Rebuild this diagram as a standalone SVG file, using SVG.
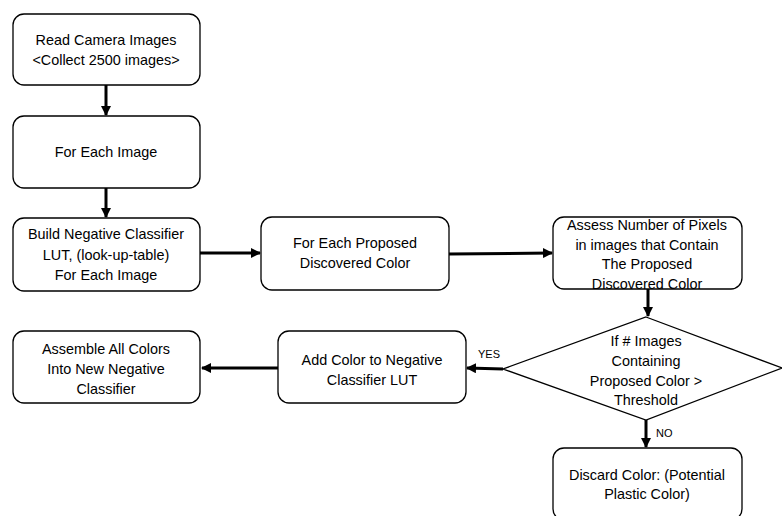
<svg xmlns="http://www.w3.org/2000/svg" width="782" height="516" viewBox="0 0 782 516">
<style>
.box{fill:#fff;stroke:#000;stroke-width:1.3}
.t{font-family:"Liberation Sans",Arial,sans-serif;font-size:14.4px;fill:#000;text-anchor:middle}
.lbl{font-family:"Liberation Sans",Arial,sans-serif;font-size:11px;fill:#000}
.c{stroke:#000;stroke-width:3;fill:none;marker-end:url(#ah)}
</style>
<defs>
<marker id="ah" markerWidth="10" markerHeight="10" viewBox="0 0 10 10" refX="9" refY="5" orient="auto" markerUnits="userSpaceOnUse">
<path d="M0,0 L10,5 L0,10 z" fill="#000"/>
</marker>
</defs>
<rect width="782" height="516" fill="#fff"/>
<g id="connectors">
<line class="c" x1="106" y1="85" x2="106" y2="115"/>
<line class="c" x1="106" y1="188" x2="106" y2="217"/>
<line class="c" x1="200" y1="253" x2="260" y2="253"/>
<line class="c" x1="449" y1="254" x2="552" y2="253"/>
<line class="c" x1="648" y1="289" x2="648" y2="316"/>
<line class="c" x1="503" y1="369" x2="467" y2="368"/>
<line class="c" x1="278" y1="368" x2="202" y2="368"/>
<line class="c" x1="646" y1="420" x2="646" y2="447"/>
<text class="lbl" x="489" y="358" text-anchor="middle">YES</text>
<text class="lbl" x="656" y="437">NO</text>
</g>
<g id="n1">
<rect class="box" x="13" y="14" width="187" height="71" rx="11"/>
<text class="t" x="106" y="45">Read Camera Images</text>
<text class="t" x="106" y="65">&lt;Collect 2500 images&gt;</text>
</g>
<g id="n2">
<rect class="box" x="13" y="116" width="187" height="72" rx="11"/>
<text class="t" x="106" y="157">For Each Image</text>
</g>
<g id="n3">
<rect class="box" x="13" y="218" width="187" height="73" rx="11"/>
<text class="t" x="106" y="239">Build Negative Classifier</text>
<text class="t" x="106" y="260">LUT, (look-up-table)</text>
<text class="t" x="106" y="280">For Each Image</text>
</g>
<g id="n4">
<rect class="box" x="261" y="217" width="188" height="73" rx="11"/>
<text class="t" x="355" y="248">For Each Proposed</text>
<text class="t" x="355" y="268">Discovered Color</text>
</g>
<g id="n5">
<rect class="box" x="553" y="217" width="189" height="72" rx="11"/>
<text class="t" x="647" y="230">Assess Number of Pixels</text>
<text class="t" x="647" y="250">in images that Contain</text>
<text class="t" x="647" y="269">The Proposed</text>
<text class="t" x="647" y="289">Discovered Color</text>
</g>
<g id="n6">
<polygon class="box" points="646,317 782,368 646,420 503,369"/>
<text class="t" x="646" y="346">If # Images</text>
<text class="t" x="646" y="366">Containing</text>
<text class="t" x="646" y="386">Proposed Color &gt;</text>
<text class="t" x="646" y="405">Threshold</text>
</g>
<g id="n7">
<rect class="box" x="278" y="331" width="188" height="72" rx="11"/>
<text class="t" x="372" y="365">Add Color to Negative</text>
<text class="t" x="372" y="385">Classifier LUT</text>
</g>
<g id="n8">
<rect class="box" x="13" y="331" width="187" height="72" rx="11"/>
<text class="t" x="106" y="354">Assemble All Colors</text>
<text class="t" x="106" y="374">Into New Negative</text>
<text class="t" x="106" y="394">Classifier</text>
</g>
<g id="n9">
<rect class="box" x="553" y="448" width="189" height="72" rx="11"/>
<text class="t" x="647" y="480">Discard Color: (Potential</text>
<text class="t" x="647" y="499">Plastic Color)</text>
</g>
</svg>
